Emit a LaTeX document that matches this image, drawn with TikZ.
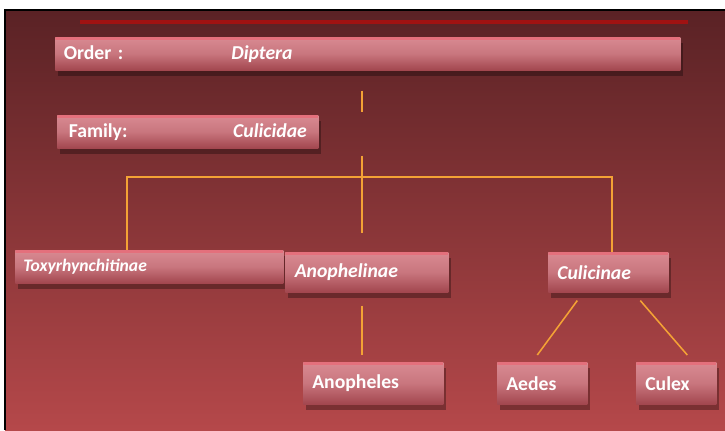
\documentclass[tikz,border=0pt]{standalone}
\usepackage{fontspec}
\setmainfont{Carlito}
\usetikzlibrary{positioning,shadows,calc,shapes}
\usepackage{xcolor}
\definecolor{bgtop}{HTML}{5A2225}
\definecolor{bgbot}{HTML}{B5484A}
\definecolor{boxtop}{HTML}{D98A92}
\definecolor{boxbot}{HTML}{A2464E}
\definecolor{boxedge}{HTML}{E4707C}
\definecolor{linkc}{HTML}{F4A235}
\definecolor{redbar}{HTML}{A01212}

\begin{document}
\begin{tikzpicture}[x=0.025cm,y=-0.025cm]
	% 定义框和连线的样式
	\tikzstyle{taxbox} = [rectangle, anchor=north west, inner xsep=6pt, align=left, text=white,
		top color=boxtop, bottom color=boxbot, middle color=boxtop!70!boxbot,
		drop shadow={shadow xshift=2pt, shadow yshift=-4pt, opacity=0.3, fill=black},
		font=\fontsize{14}{16}\selectfont\bfseries,
		path picture={\fill[boxedge] (path picture bounding box.north west) rectangle ([yshift=-2pt]path picture bounding box.north east);}]	% 定义分类框
	\tikzstyle{link} = [draw=linkc, line width=1.1pt]	% 定义连线
	% 背景
	\useasboundingbox (0,0) rectangle (725,430);
	\shade[top color=bgtop, bottom color=bgbot] (5,10) rectangle (725,430);
	\draw[black, line width=1.2pt] (5,430) -- (5,10) -- (725,10);
	\draw[redbar, line width=2.2pt] (80,22) -- (688,22);
	% 分类框
	\node (order) [taxbox, minimum width=15.625cm, minimum height=0.825cm, text width=15.2cm] at (55,37) {Order :\hspace{2.7cm}\textit{Diptera}};
	\node (family) [taxbox, minimum width=6.525cm, minimum height=0.825cm, text width=5.95cm, inner xsep=8pt] at (57,115) {Family:\hfill\textit{Culicidae}};
	\node (toxy) [taxbox, minimum width=6.7cm, minimum height=0.825cm, text width=6.3cm, inner xsep=4pt, font=\fontsize{12.5}{14}\selectfont\bfseries] at (15,250) {\textit{Toxyrhynchitinae}};
	\node (anoph) [taxbox, minimum width=4.075cm, minimum height=1cm, text width=3.6cm] at (285,252) {\textit{Anophelinae}};
	\node (culi) [taxbox, minimum width=3cm, minimum height=1cm, text width=2.55cm] at (548,252) {\textit{Culicinae}};
	\node (anopheles) [taxbox, minimum width=3.5cm, minimum height=1.05cm, text width=3.05cm] at (303,362) {Anopheles};
	\node (aedes) [taxbox, minimum width=2.25cm, minimum height=1.05cm, text width=1.8cm] at (497,362) {Aedes};
	\node (culex) [taxbox, minimum width=2cm, minimum height=1.05cm, text width=1.55cm] at (636,362) {Culex};
	% 连接各框
	\coordinate (hub) at (362,177);
	\coordinate (tleft) at (127,177);
	\coordinate (tright) at (612,177);
	\draw[link, shorten <=0.5cm, shorten >=0.075cm] (order.south -| hub) -- (family.north -| hub);
	\draw[link] ([yshift=-0.175cm]family.south -| hub) -- ([yshift=0.475cm]anoph.north -| hub);
	\draw[link] (toxy.north -| tleft) -- (tleft) -- (tright) -- (culi.north -| tright);
	\draw[link, shorten <=0.325cm, shorten >=0.175cm] (anoph.south -| hub) -- (anopheles.north -| hub);
	\draw[link] ([xshift=-0.775cm,yshift=-0.2cm]culi.south) -- ([xshift=-0.125cm,yshift=0.175cm]aedes.north);
	\draw[link] ([xshift=0.8cm,yshift=-0.2cm]culi.south) -- ([xshift=0.275cm,yshift=0.175cm]culex.north);
\end{tikzpicture}
\end{document}
